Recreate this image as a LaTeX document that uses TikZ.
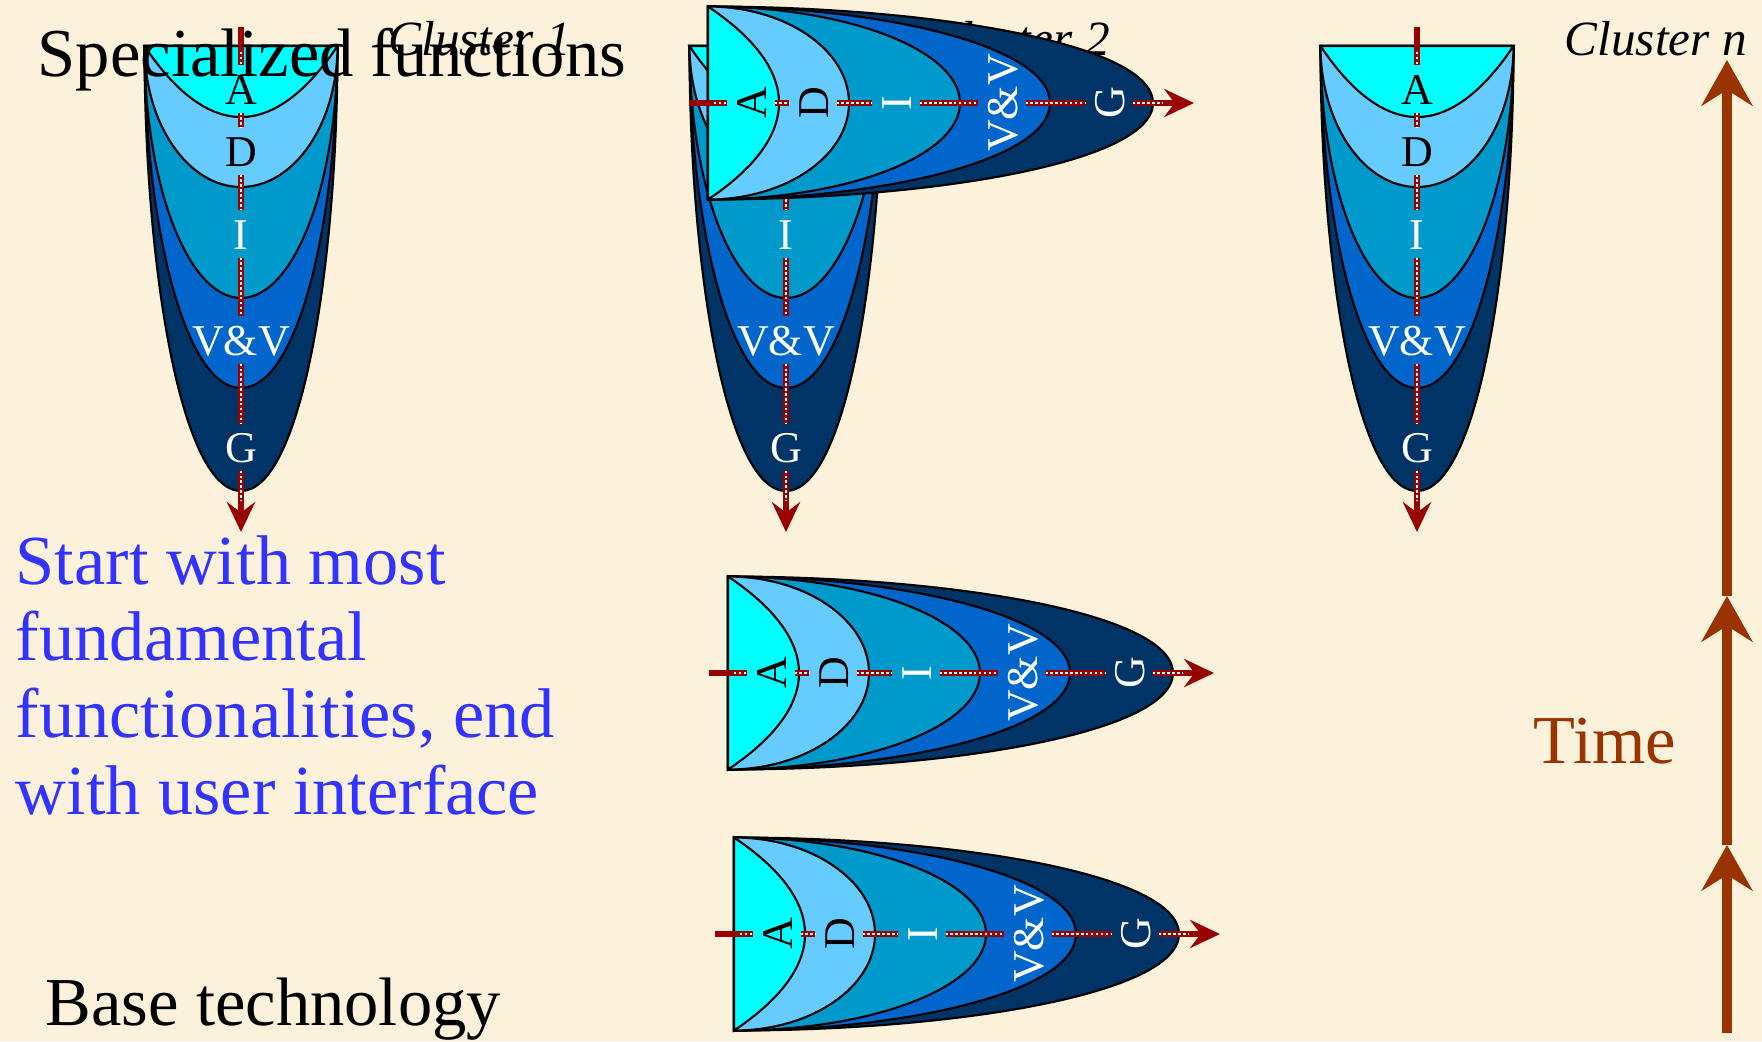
\documentclass[tikz,border=0pt]{standalone}
\usepackage{fontspec}
\setmainfont{Liberation Serif}
\usetikzlibrary{arrows.meta}
\definecolor{myPAPER}{RGB}{252,242,219}
\definecolor{myCYAN}{HTML}{00FFFF}
\definecolor{mySKY}{HTML}{66CCFF}
\definecolor{myTEAL}{HTML}{0099CC}
\definecolor{myBLUE}{HTML}{0066CC}
\definecolor{myNAVY}{HTML}{003366}
\definecolor{myAXIS}{HTML}{990000}
\definecolor{myTIME}{HTML}{993300}
\definecolor{myNOTE}{HTML}{3333FF}

\tikzset{
  layer/.style={draw=black, line width=0.6pt},
  lab/.style={font=\fontsize{12.5}{14}\selectfont, inner sep=2pt, text height=9pt, text depth=0pt},
  axis/.style={draw=myAXIS, line width=1.8pt},
  dotaxis/.style={axis, postaction={draw=white, line width=0.7pt, dash pattern=on 0.7pt off 0.7pt, -, shorten >=#1}},
  dotaxis/.default=0pt,
  axistip/.style={-{Stealth[length=8.5pt, width=8pt, inset=3pt]}},
  cluster/.style={font=\fontsize{14}{16}\selectfont\itshape, anchor=base west, inner sep=0pt},
  bigtext/.style={font=\fontsize{19.5}{22}\selectfont, anchor=base west, inner sep=0pt},
  timeline/.style={draw=myTIME, line width=3pt, -{Stealth[length=13pt, width=14.5pt, inset=4.5pt]}},
}

% one A-D-I-V&V-G funnel: #1 name, #2 x, #3 y (middle of the flat edge), #4 angle
\newcommand{\funnel}[4]{%
  \begin{scope}[shift={(#2,#3)}, rotate=#4, transform shape, name prefix=#1-]
    \foreach \dep/\ax/\ay/\bx/\col in {445/1/0.5/0.62/myNAVY, 342/1/0.5/0.6/myBLUE, 252/1/0.55/0.55/myTEAL, 141/1/0.55/0.55/mySKY, 71/0.67/0.67/0.33/myCYAN}
      \draw[layer, fill=\col] (-96.5,0) -- (96.5,0)
        .. controls (\ax*96.5,\ay*\dep) and (\bx*96.5,\dep) .. (0,\dep)
        .. controls (-\bx*96.5,\dep) and (-\ax*96.5,\ay*\dep) .. cycle;
    \node[lab, text=black] (A) at (0,43) {A};
    \node[lab, text=black] (D) at (0,105) {D};
    \node[lab, text=white] (I) at (0,188) {I};
    \node[lab, text=white] (VV) at (0,294) {V\&V};
    \node[lab, text=white] (G) at (0,401) {G};
    \coordinate (tail) at (0,-19);
    \coordinate (rim) at (0,6);
    \coordinate (head) at (0,486);
    \draw[axis] (tail) -- (rim);
    \draw[dotaxis] (rim) -- (A);
    \draw[dotaxis] (A) -- (D);
    \draw[dotaxis] (D) -- (I);
    \draw[dotaxis] (I) -- (VV);
    \draw[dotaxis] (VV) -- (G);
    \draw[dotaxis=9pt, axistip] (G) -- (head);
  \end{scope}}

\begin{document}
\begin{tikzpicture}[x=0.01cm, y=-0.01cm]
  \fill[myPAPER] (0,0) rectangle (1762,1041);
  \useasboundingbox (0,0) rectangle (1762,1041);

  % headings
  \node[cluster] (c1) at (388,55) {Cluster 1};
  \node[cluster] (c2) at (927,55) {Cluster 2};
  \node[cluster] (cn) at (1564,55) {Cluster n};

  % funnels
  \funnel{f1}{241}{46}{0}
  \funnel{f2}{786}{46}{0}
  \funnel{fn}{1417}{46}{0}
  \funnel{h1}{708}{103}{90}
  \funnel{h2}{728}{673}{90}
  \funnel{h3}{734}{934}{90}

  % texts
  \node[bigtext] (spec) at (37,76) {Specialized functions};
  \node[bigtext, font=\fontsize{20}{21.8}\selectfont, text=myNOTE, align=left] (note) at (15,814) {Start with most\\fundamental\\functionalities, end\\with user interface};
  \node[bigtext] (base) at (45,1025) {Base technology};
  \node[bigtext, text=myTIME] (time) at (1533,763) {Time};

  % time axis
  \coordinate (t0) at (1727,1033);
  \coordinate (t1) at (1727,845);
  \coordinate (t2) at (1727,596);
  \coordinate (t3) at (1727,60);
  \draw[timeline] (t0) -- (t1);
  \draw[timeline] (t1) -- (t2);
  \draw[timeline] (t2) -- (t3);
\end{tikzpicture}
\end{document}
